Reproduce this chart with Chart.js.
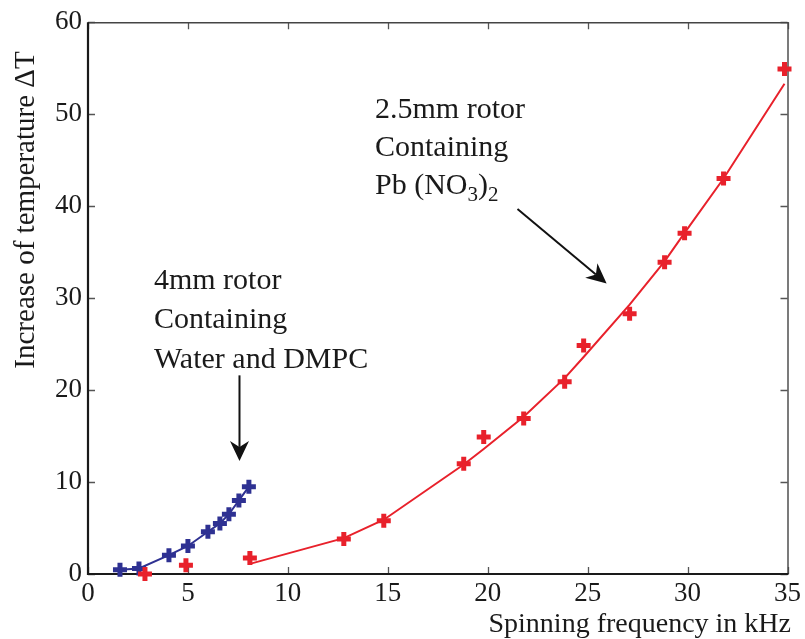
<!DOCTYPE html>
<html>
<head>
<meta charset="utf-8">
<script src="https://cdn.jsdelivr.net/npm/chart.js@4.4.1/dist/chart.umd.min.js"></script>
<style>
  html, body { margin: 0; padding: 0; background: #fff; }
  #wrap { width: 805px; height: 639px; position: relative; }
</style>
</head>
<body>
<div id="wrap"><canvas id="c" width="805" height="639"></canvas></div>
<script>
// 4mm rotor, water + DMPC
var blueX = [1.6, 2.55, 4.05, 5.0, 6.0, 6.6, 7.05, 7.55, 8.05];
var blueY = [0.45, 0.6, 2.05, 3.05, 4.6, 5.5, 6.5, 8.0, 9.5];

// 2.5mm rotor, Pb(NO3)2 measured points
var redX = [2.85, 4.9, 8.1, 12.8, 14.8, 18.8, 19.8, 21.8, 23.85, 24.8, 27.1, 28.85, 29.85, 31.8, 34.85];
var redY = [0.0, 0.95, 1.75, 3.8, 5.8, 12.0, 14.9, 16.9, 20.9, 24.85, 28.3, 33.9, 37.05, 43.0, 54.9];

// fitted curve for the 2.5mm rotor
var fitX = [8.1, 12.8, 14.8, 18.8, 19.8, 21.8, 23.85, 24.8, 27.1, 28.85, 29.85, 31.8, 34.85];
var fitY = [1.1, 3.9, 5.9, 11.9, 13.6, 17.1, 21.3, 23.6, 29.3, 34.0, 37.1, 43.0, 53.3];

var xTicks = [0, 5, 10, 15, 20, 25, 30, 35];
var yTicks = [0, 10, 20, 30, 40, 50, 60];

var RED = "#e8212b";
var BLUE = "#2e3192";
var SERIF = "'Liberation Serif', 'DejaVu Serif', serif";

function pts(xs, ys) {
  return xs.map(function (x, i) { return { x: x, y: ys[i] }; });
}

function arrow(ctx, x1, y1, x2, y2) {
  var a = Math.atan2(y2 - y1, x2 - x1);
  var len = 20, half = 9.5, notch = 6;
  ctx.save();
  ctx.strokeStyle = "#111";
  ctx.fillStyle = "#111";
  ctx.lineWidth = 2;
  ctx.beginPath();
  ctx.moveTo(x1, y1);
  ctx.lineTo(x2 - Math.cos(a) * (len - notch), y2 - Math.sin(a) * (len - notch));
  ctx.stroke();
  ctx.translate(x2, y2);
  ctx.rotate(a);
  ctx.beginPath();
  ctx.moveTo(0, 0);
  ctx.lineTo(-len, -half);
  ctx.lineTo(-len + notch, 0);
  ctx.lineTo(-len, half);
  ctx.closePath();
  ctx.fill();
  ctx.restore();
}

var framePlugin = {
  id: "frame",
  beforeDatasetsDraw: function (chart) {
    var ctx = chart.ctx, a = chart.chartArea;
    var xs = chart.scales.x, ys = chart.scales.y;
    ctx.save();
    // inward ticks
    ctx.strokeStyle = "#555";
    ctx.lineWidth = 1.3;
    ctx.beginPath();
    xTicks.forEach(function (v) {
      var px = Math.round(xs.getPixelForValue(v)) + 0.5;
      ctx.moveTo(px, a.bottom); ctx.lineTo(px, a.bottom - 7);
      ctx.moveTo(px, a.top); ctx.lineTo(px, a.top + 7);
    });
    yTicks.forEach(function (v) {
      var py = Math.round(ys.getPixelForValue(v)) + 0.5;
      ctx.moveTo(a.left, py); ctx.lineTo(a.left + 7, py);
      ctx.moveTo(a.right, py); ctx.lineTo(a.right - 7, py);
    });
    ctx.stroke();
    // top and right border (thin)
    ctx.strokeStyle = "#444";
    ctx.lineWidth = 1.4;
    ctx.beginPath();
    ctx.moveTo(a.left, a.top + 0.5); ctx.lineTo(a.right + 0.5, a.top + 0.5); ctx.lineTo(a.right + 0.5, a.bottom);
    ctx.stroke();
    // left and bottom axis (heavier)
    ctx.strokeStyle = "#1a1a1a";
    ctx.lineWidth = 2.2;
    ctx.beginPath();
    ctx.moveTo(a.left, a.top); ctx.lineTo(a.left, a.bottom); ctx.lineTo(a.right + 1, a.bottom);
    ctx.stroke();
    ctx.restore();
  },
  afterDraw: function (chart) {
    var ctx = chart.ctx;
    var xs = chart.scales.x, ys = chart.scales.y;
    ctx.save();
    // axis titles
    ctx.fillStyle = "#1a1a1a";
    ctx.font = "28px " + SERIF;
    ctx.textAlign = "right";
    ctx.textBaseline = "alphabetic";
    ctx.fillText("Spinning frequency in kHz", 791, 632);
    ctx.save();
    ctx.translate(34, 210);
    ctx.rotate(-Math.PI / 2);
    ctx.font = "29px " + SERIF;
    ctx.textAlign = "center";
    ctx.fillText("Increase of temperature \u0394T", 0, 0);
    ctx.restore();

    // annotations
    ctx.font = "30px " + SERIF;
    ctx.textAlign = "left";
    var l1x = xs.getPixelForValue(3.3), l1y = ys.getPixelForValue(31.0);
    ctx.fillText("4mm rotor", l1x, l1y);
    ctx.fillText("Containing", l1x, l1y + 39.5);
    ctx.fillText("Water and DMPC", l1x, l1y + 79);

    var l2x = xs.getPixelForValue(14.36), l2y = ys.getPixelForValue(49.6);
    ctx.fillText("2.5mm rotor", l2x, l2y);
    ctx.fillText("Containing", l2x, l2y + 38.5);
    var by = l2y + 76.5, bx = l2x;
    ctx.fillText("Pb (NO", bx, by);
    bx += ctx.measureText("Pb (NO").width;
    ctx.font = "21px " + SERIF;
    ctx.fillText("3", bx, by + 7);
    bx += ctx.measureText("3").width;
    ctx.font = "30px " + SERIF;
    ctx.fillText(")", bx, by);
    bx += ctx.measureText(")").width;
    ctx.font = "21px " + SERIF;
    ctx.fillText("2", bx, by + 7);

    arrow(ctx, xs.getPixelForValue(7.58), ys.getPixelForValue(21.6),
      xs.getPixelForValue(7.58), ys.getPixelForValue(12.3));
    arrow(ctx, xs.getPixelForValue(21.49), ys.getPixelForValue(39.7),
      xs.getPixelForValue(25.95), ys.getPixelForValue(31.6));
    ctx.restore();
  }
};

var markerStyle = {
  showLine: false,
  clip: false,
  pointStyle: "cross",
  pointRadius: 7,
  pointHoverRadius: 7,
  pointBorderWidth: 5
};

new Chart(document.getElementById("c"), {
  type: "scatter",
  data: {
    datasets: [
      Object.assign({}, markerStyle, {
        label: "2.5mm rotor",
        data: pts(redX, redY),
        borderColor: RED,
        backgroundColor: RED,
        pointBorderColor: RED
      }),
      Object.assign({}, markerStyle, {
        label: "4mm rotor",
        data: pts(blueX, blueY),
        showLine: true,
        borderColor: BLUE,
        backgroundColor: BLUE,
        borderWidth: 2,
        pointBorderColor: BLUE
      }),
      {
        label: "2.5mm fit",
        data: pts(fitX, fitY),
        showLine: true,
        clip: false,
        pointRadius: 0,
        borderColor: RED,
        borderWidth: 2,
        tension: 0
      }
    ]
  },
  options: {
    responsive: false,
    animation: false,
    events: [],
    layout: { padding: { left: 0, top: 21, right: 15, bottom: 0 } },
    plugins: { legend: { display: false }, tooltip: { enabled: false } },
    scales: {
      x: {
        type: "linear",
        min: 0, max: 35,
        afterFit: function (s) { s.height = 65; },
        afterBuildTicks: function (s) { s.ticks = xTicks.map(function (v) { return { value: v }; }); },
        grid: { display: false, drawTicks: false },
        border: { display: false },
        ticks: { color: "#1a1a1a", padding: 4, font: { family: SERIF, size: 27 } }
      },
      y: {
        type: "linear",
        min: 0, max: 60,
        afterFit: function (s) { s.width = 88; },
        afterBuildTicks: function (s) { s.ticks = yTicks.map(function (v) { return { value: v }; }); },
        grid: { display: false, drawTicks: false },
        border: { display: false },
        ticks: { color: "#1a1a1a", padding: 6, font: { family: SERIF, size: 27 } }
      }
    }
  },
  plugins: [framePlugin]
});
</script>
</body>
</html>
